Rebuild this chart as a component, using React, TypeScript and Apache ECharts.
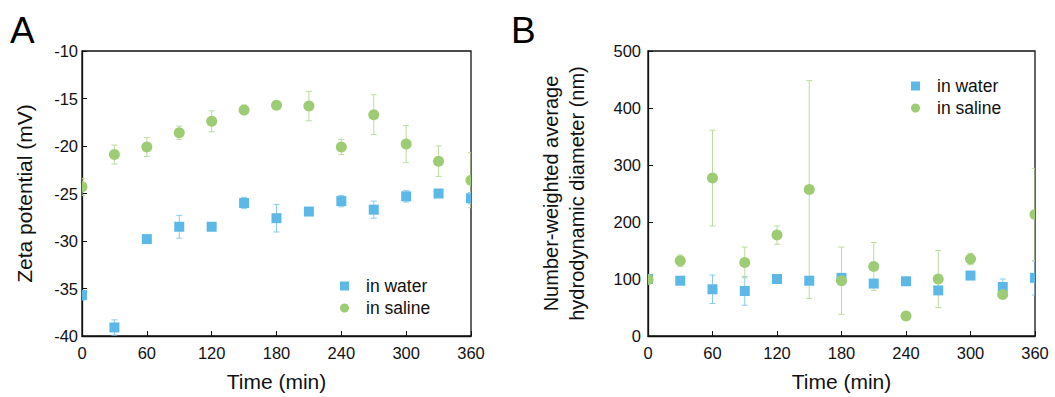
import React, { useEffect, useRef } from "react";
import * as echarts from "echarts";

const times = [0, 30, 60, 90, 120, 150, 180, 210, 240, 270, 300, 330, 360];

// Panel A: zeta potential (mV)
const zetaWater = [-35.7, -39.1, -29.8, -28.5, -28.5, -26.0, -27.6, -26.9, -25.8, -26.7, -25.3, -25.0, -25.5];
const zetaWaterErr = [0.5, 0.8, 0.1, 1.2, 0.3, 0.6, 1.45, 0.4, 0.6, 0.9, 0.6, 0.2, 0.6];
const zetaSaline = [-24.3, -20.9, -20.1, -18.6, -17.4, -16.2, -15.7, -15.8, -20.1, -16.7, -19.8, -21.6, -23.6];
const zetaSalineErr = [0.9, 1.0, 1.0, 0.7, 1.1, 0.5, 0.2, 1.55, 0.8, 2.1, 1.95, 1.6, 2.9];

// Panel B: number-weighted average hydrodynamic diameter (nm)
const diamWater = [100, 97, 82, 79, 100, 97, 102, 92, 96, 80, 106, 86, 102];
const diamWaterErr = [3, 4, 25, 25, 4, 4, 4, 4, 4, 4, 5, 14, 30];
const diamSaline = [99, 132, 277, 129, 177, 257, 97, 122, 35, 100, 135, 73, 213];
const diamSalineErr = [3, 10, 84, 27, 16, 191, 59, 42, 3, 50, 10, 5, 81];

const legendNames = ["in water", "in saline"];

const BLUE = "#5cb8e6";
const GREEN = "#9dcc75";
const BLUE_ERR = "#8ccbec";
const GREEN_ERR = "#bcdc9f";
const FONT = "Liberation Sans";
const INK = "#111";

function pts(xs: number[], ys: number[]) {
  return xs.map((x, i) => [x, ys[i]]);
}
function errPts(xs: number[], ys: number[], es: number[]) {
  return xs.map((x, i) => [x, ys[i] - es[i], ys[i] + es[i]]);
}

function errSeries(data: number[][], color: string, xi: number) {
  return {
    type: "custom",
    xAxisIndex: xi,
    yAxisIndex: xi,
    clip: true,
    silent: true,
    z: 1,
    data,
    encode: { x: 0, y: [1, 2] },
    renderItem: (params: any, api: any) => {
      const x = api.value(0);
      const lo = api.coord([x, api.value(1)]);
      const hi = api.coord([x, api.value(2)]);
      const hw = 3;
      const style = { stroke: color, lineWidth: 1 };
      return {
        type: "group",
        children: [
          { type: "line", shape: { x1: lo[0], y1: lo[1], x2: hi[0], y2: hi[1] }, style },
          { type: "line", shape: { x1: lo[0] - hw, y1: lo[1], x2: lo[0] + hw, y2: lo[1] }, style },
          { type: "line", shape: { x1: hi[0] - hw, y1: hi[1], x2: hi[0] + hw, y2: hi[1] }, style },
        ],
      };
    },
  };
}

function markerSeries(name: string, data: number[][], color: string, xi: number, shape: "rect" | "circle") {
  return {
    type: "custom",
    name,
    xAxisIndex: xi,
    yAxisIndex: xi,
    clip: true,
    silent: true,
    z: 3,
    itemStyle: { color },
    data,
    encode: { x: 0, y: 1 },
    renderItem: (params: any, api: any) => {
      const p = api.coord([api.value(0), api.value(1)]);
      if (shape === "rect") {
        const s = 10;
        return { type: "rect", shape: { x: p[0] - s / 2, y: p[1] - s / 2, width: s, height: s }, style: { fill: color } };
      }
      return { type: "circle", shape: { cx: p[0], cy: p[1], r: 5.5 }, style: { fill: color } };
    },
  };
}

function xAxisCfg(gi: number) {
  return {
    type: "value",
    gridIndex: gi,
    min: 0,
    max: 360,
    interval: 60,
    name: "Time (min)",
    nameLocation: "middle",
    nameGap: 35,
    nameTextStyle: { fontFamily: FONT, fontSize: 21, color: INK },
    axisLine: { show: true, onZero: false, lineStyle: { color: INK, width: 1.3 } },
    axisTick: { show: true, inside: true, length: 5, lineStyle: { color: INK } },
    splitLine: { show: false },
    axisLabel: { fontFamily: FONT, fontSize: 16.5, color: INK, margin: 8 },
  };
}

function legendCfg(left: number, top: number) {
  return {
    left,
    top,
    orient: "vertical",
    selectedMode: false,
    itemWidth: 9,
    itemHeight: 9,
    itemGap: 4,
    textStyle: { fontFamily: FONT, fontSize: 17.5, color: INK, padding: [0, 0, 0, 12] },
    data: [
      { name: legendNames[0], icon: "rect" },
      { name: legendNames[1], icon: "circle" },
    ],
  };
}

export default function App() {
  const ref = useRef<HTMLDivElement>(null);
  useEffect(() => {
    if (!ref.current) return;
    const chart = echarts.init(ref.current, undefined, { renderer: "svg" });
    const option: any = {
      animation: false,
      backgroundColor: "#fff",
      textStyle: { fontFamily: FONT },
      grid: [
        { left: 82, top: 51, width: 389, height: 285, show: true, borderColor: INK, borderWidth: 1.3, backgroundColor: "transparent" },
        { left: 648, top: 51, width: 387, height: 285, show: true, borderColor: INK, borderWidth: 1.3, backgroundColor: "transparent" },
      ],
      xAxis: [xAxisCfg(0), xAxisCfg(1)],
      yAxis: [
        {
          type: "value",
          gridIndex: 0,
          min: -40,
          max: -10,
          interval: 5,
          name: "Zeta potential (mV)",
          nameLocation: "middle",
          nameGap: 47,
          nameTextStyle: { fontFamily: FONT, fontSize: 21, color: INK },
          axisLine: { show: true, lineStyle: { color: INK, width: 1.3 } },
          axisTick: { show: true, inside: true, length: 5, lineStyle: { color: INK } },
          splitLine: { show: false },
          axisLabel: { fontFamily: FONT, fontSize: 16.5, color: INK, margin: 4 },
        },
        {
          type: "value",
          gridIndex: 1,
          min: 0,
          max: 500,
          interval: 100,
          name: "Number-weighted average\nhydrodynamic diameter (nm)",
          nameLocation: "middle",
          nameGap: 58,
          nameTextStyle: { fontFamily: FONT, fontSize: 20, color: INK, lineHeight: 26 },
          axisLine: { show: true, lineStyle: { color: INK, width: 1.3 } },
          axisTick: { show: true, inside: true, length: 5, lineStyle: { color: INK } },
          splitLine: { show: false },
          axisLabel: { fontFamily: FONT, fontSize: 16.5, color: INK, margin: 7 },
        },
      ],
      legend: [legendCfg(335, 272), legendCfg(906, 72)],
      graphic: [
        { type: "text", left: 10, top: 12, style: { text: "A", font: `37px "${FONT}"`, fill: "#000" } },
        { type: "text", left: 511, top: 12, style: { text: "B", font: `37px "${FONT}"`, fill: "#000" } },
      ],
      series: [
        errSeries(errPts(times, zetaWater, zetaWaterErr), BLUE_ERR, 0),
        errSeries(errPts(times, zetaSaline, zetaSalineErr), GREEN_ERR, 0),
        errSeries(errPts(times, diamWater, diamWaterErr), BLUE_ERR, 1),
        errSeries(errPts(times, diamSaline, diamSalineErr), GREEN_ERR, 1),
        markerSeries(legendNames[0], pts(times, zetaWater), BLUE, 0, "rect"),
        markerSeries(legendNames[1], pts(times, zetaSaline), GREEN, 0, "circle"),
        markerSeries(legendNames[0], pts(times, diamWater), BLUE, 1, "rect"),
        markerSeries(legendNames[1], pts(times, diamSaline), GREEN, 1, "circle"),
      ],
    };
    chart.setOption(option);
    return () => chart.dispose();
  }, []);
  return (
    <div
      ref={ref}
      style={{ position: "absolute", left: 0, top: 0, width: 1055, height: 397, background: "#fff" }}
    />
  );
}
